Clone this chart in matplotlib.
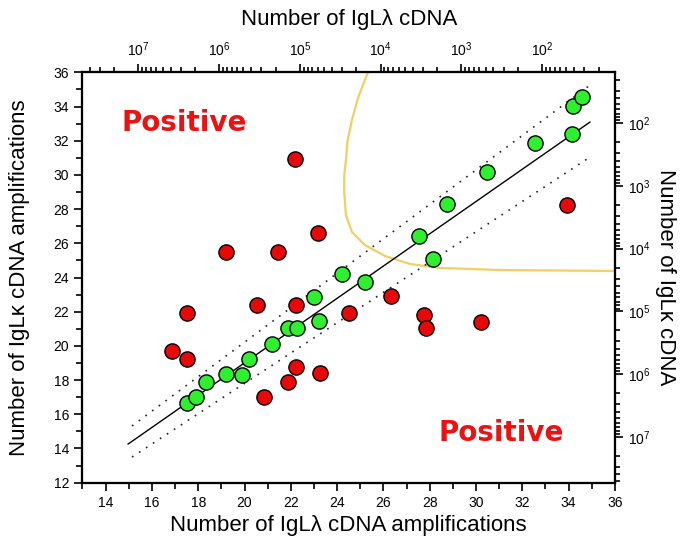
import numpy as np
import matplotlib
matplotlib.use("Agg")
import matplotlib.pyplot as plt
from matplotlib.ticker import MultipleLocator, LogLocator, NullFormatter

plt.rcParams['font.family'] = ['Liberation Sans', 'DejaVu Sans']
plt.rcParams['mathtext.default'] = 'regular'

# Data (cycle numbers)
green_x = [17.51, 17.90, 18.33, 19.20, 19.89, 20.19, 21.19, 21.88, 22.27, 23.22, 23.00,
           24.21, 25.20, 27.54, 28.14, 28.75, 30.47, 32.55, 34.15, 34.19, 34.58]
green_y = [16.66, 17.01, 17.89, 18.36, 18.30, 19.24, 20.11, 21.05, 21.05, 21.46, 22.86,
           24.21, 23.74, 26.43, 25.09, 28.30, 30.16, 31.86, 32.39, 34.02, 34.55]
red_x = [22.18, 23.17, 19.20, 21.45, 17.51, 20.54, 22.22, 24.51, 16.87, 17.51,
         22.22, 21.88, 23.26, 20.84, 26.33, 27.75, 27.84, 30.21, 33.93]
red_y = [30.93, 26.60, 25.49, 25.49, 21.92, 22.39, 22.39, 21.92, 19.70, 19.23,
         18.77, 17.89, 18.42, 17.01, 22.92, 21.81, 21.05, 21.40, 28.24]

# regression line and prediction band end points
fit_x = [14.97, 34.92]
fit_y = [14.26, 33.09]
upper_x = [15.14, 34.92]
upper_y = [15.32, 35.25]
lower_x = [15.14, 34.92]
lower_y = [13.50, 31.04]

# threshold curve
curve_x = [25.33, 24.90, 24.64, 24.45, 24.38, 24.31, 24.30, 24.38, 24.64, 25.20,
           26.07, 27.15, 28.44, 31.03, 36.0]
curve_y = [36.00, 34.50, 33.21, 32.00, 30.87, 30.00, 29.11, 27.65, 26.66, 25.90,
           25.26, 24.79, 24.56, 24.44, 24.38]

# axis conversions: cycles -> copy number (log10)
lam_a, lam_b = 39.83, 3.488
kap_a, kap_b = 40.35, 3.666

xlim = (13, 36)
ylim = (12, 36)

fig = plt.figure(figsize=(6.84, 5.44), dpi=100)
ax = fig.add_axes([0.1206, 0.1127, 0.899 - 0.1206, 0.867 - 0.1127])

ax.plot(curve_x, curve_y, color='#f3cf63', lw=1.6, zorder=1, solid_joinstyle='round')
ax.plot(fit_x, fit_y, color='black', lw=1.0, zorder=2)
ax.plot(upper_x, upper_y, color='#222222', lw=1.2, ls=(0, (1, 4)), zorder=2)
ax.plot(lower_x, lower_y, color='#222222', lw=1.2, ls=(0, (1, 4)), zorder=2)
ax.scatter(red_x, red_y, s=120, c='#e80808', edgecolors='black', linewidths=1.0, zorder=3)
ax.scatter(green_x, green_y, s=120, c='#2ef02e', edgecolors='black', linewidths=1.0, zorder=4)

ax.text(17.38, 33.03, 'Positive', color='#ee1111', fontsize=20, fontweight='bold',
        family='DejaVu Sans', ha='center', va='center')
ax.text(31.08, 14.89, 'Positive', color='#ee1111', fontsize=20, fontweight='bold',
        family='DejaVu Sans', ha='center', va='center')

ax.set_xlim(*xlim)
ax.set_ylim(*ylim)
ax.xaxis.set_major_locator(MultipleLocator(2))
ax.xaxis.set_minor_locator(MultipleLocator(1))
ax.yaxis.set_major_locator(MultipleLocator(2))
ax.yaxis.set_minor_locator(MultipleLocator(1))
ax.tick_params(which='both', direction='out', width=1.2, labelsize=10)
ax.tick_params(which='major', length=6)
ax.tick_params(which='minor', length=4)
for sp in ax.spines.values():
    sp.set_linewidth(1.5)
ax.set_xlabel('Number of IgLλ cDNA amplifications', fontsize=16, labelpad=4)
ax.set_ylabel('Number of IgLκ cDNA amplifications', fontsize=16, labelpad=17)

# top axis: lambda copy number
axt = ax.twiny()
axt.set_xscale('log')
axt.set_xlim(10 ** ((lam_a - xlim[0]) / lam_b), 10 ** ((lam_a - xlim[1]) / lam_b))
axt.xaxis.set_major_locator(LogLocator(base=10, numticks=20))
axt.xaxis.set_minor_locator(LogLocator(base=10, subs=np.arange(2, 10), numticks=20))
axt.xaxis.set_minor_formatter(NullFormatter())
axt.tick_params(which='both', direction='out', width=1.2, labelsize=10)
axt.tick_params(which='major', length=6)
axt.tick_params(which='minor', length=3.5)
axt.set_xlabel('Number of IgLλ cDNA', fontsize=16, labelpad=11)

# right axis: kappa copy number
axr = ax.twinx()
axr.set_yscale('log')
axr.set_ylim(10 ** ((kap_a - ylim[0]) / kap_b), 10 ** ((kap_a - ylim[1]) / kap_b))
axr.yaxis.set_major_locator(LogLocator(base=10, numticks=20))
axr.yaxis.set_minor_locator(LogLocator(base=10, subs=np.arange(2, 10), numticks=20))
axr.yaxis.set_minor_formatter(NullFormatter())
axr.tick_params(which='both', direction='out', width=1.2, labelsize=10)
axr.tick_params(which='major', length=6)
axr.tick_params(which='minor', length=3.5)
axr.set_ylabel('Number of IgLκ cDNA', fontsize=16, rotation=-90, labelpad=18)

for a in (axt, axr):
    for sp in a.spines.values():
        sp.set_linewidth(1.5)

fig.savefig('out.png', dpi=100)
